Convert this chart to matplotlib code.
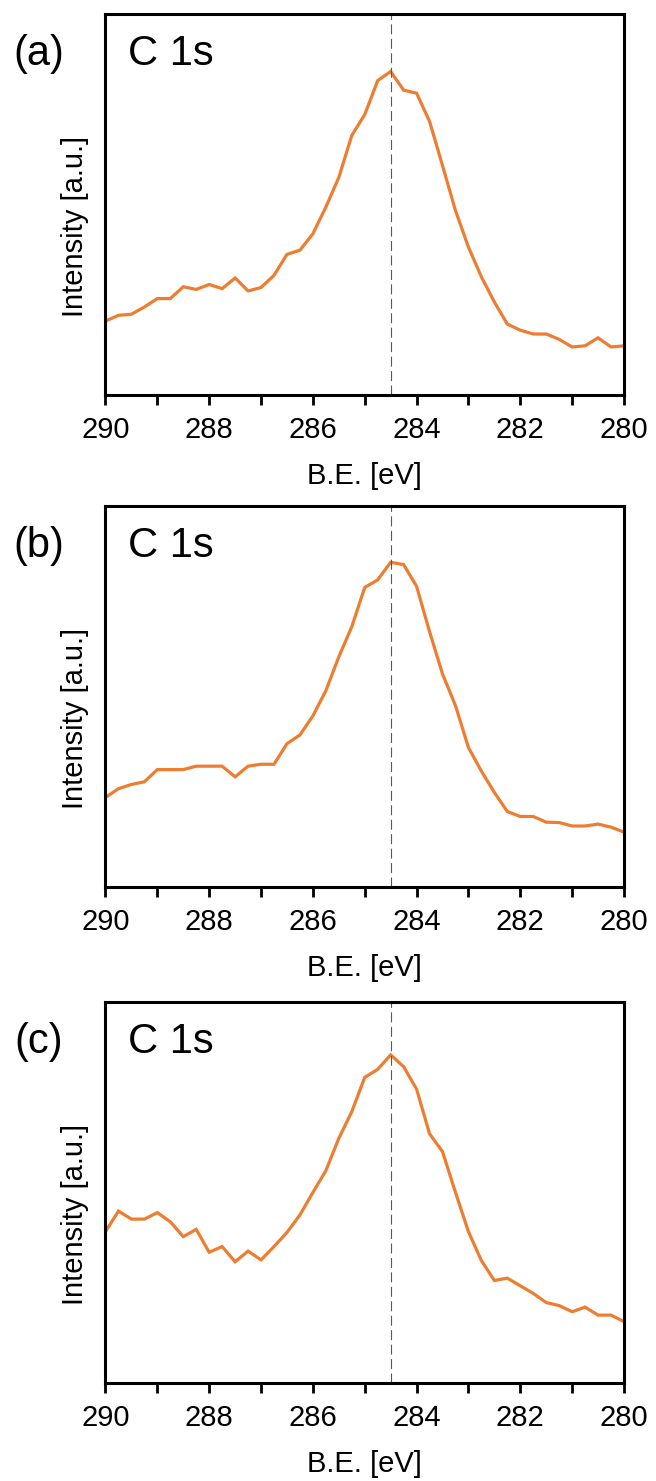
import numpy as np
import matplotlib
matplotlib.use("Agg")
import matplotlib.pyplot as plt
from matplotlib.ticker import MultipleLocator

plt.rcParams['font.family'] = ['Liberation Sans', 'DejaVu Sans']

# binding energy grid, 0.25 eV steps from 290 down to 280
be = np.arange(290.0, 279.99, -0.25)

# normalised C 1s intensities (a.u.)
c1s_a = [0.194, 0.209, 0.212, 0.231, 0.253, 0.253, 0.284, 0.277, 0.290, 0.279,
         0.307, 0.273, 0.282, 0.314, 0.369, 0.380, 0.423, 0.493, 0.571, 0.681,
         0.736, 0.825, 0.849, 0.800, 0.792, 0.718, 0.602, 0.484, 0.388, 0.310,
         0.244, 0.186, 0.170, 0.160, 0.160, 0.146, 0.126, 0.129, 0.150, 0.126,
         0.129]
c1s_b = [0.235, 0.258, 0.269, 0.276, 0.308, 0.308, 0.308, 0.317, 0.317, 0.317,
         0.289, 0.317, 0.322, 0.322, 0.376, 0.399, 0.449, 0.515, 0.604, 0.683,
         0.786, 0.806, 0.852, 0.846, 0.789, 0.670, 0.559, 0.476, 0.366, 0.304,
         0.248, 0.198, 0.185, 0.185, 0.170, 0.169, 0.160, 0.160, 0.165, 0.157,
         0.144]
c1s_c = [0.397, 0.451, 0.430, 0.430, 0.447, 0.423, 0.384, 0.403, 0.343, 0.358,
         0.318, 0.346, 0.323, 0.358, 0.395, 0.441, 0.500, 0.557, 0.642, 0.712,
         0.802, 0.823, 0.861, 0.830, 0.771, 0.654, 0.607, 0.500, 0.397, 0.321,
         0.269, 0.275, 0.255, 0.235, 0.211, 0.203, 0.187, 0.199, 0.178, 0.178,
         0.161]

panel_tags = ['(a)', '(b)', '(c)']
spectra = [c1s_a, c1s_b, c1s_c]
ref_be = 284.5          # C-C reference position
be_range = (290, 280)

fig = plt.figure(figsize=(6.56, 14.81), dpi=100)

bottoms = [0.7333, 0.4011, 0.0662]
for tag, y, b in zip(panel_tags, spectra, bottoms):
    ax = fig.add_axes([0.1608, b, 0.7904, 0.2573])
    ax.plot(be, y, color='#ED7D31', lw=2.3, solid_joinstyle='miter')
    ax.axvline(ref_be, color='#595959', lw=0.8, linestyle=(0, (9, 4)))

    ax.set_xlim(*be_range)
    ax.set_ylim(0, 1)
    ax.xaxis.set_major_locator(MultipleLocator(2))
    ax.xaxis.set_minor_locator(MultipleLocator(1))
    ax.tick_params(axis='x', which='both', direction='out', length=7,
                   width=2, pad=8, labelsize=21)
    ax.set_yticks([])
    for sp in ax.spines.values():
        sp.set_linewidth(2.2)

    ax.set_xlabel('B.E. [eV]', fontsize=21)
    ax.xaxis.set_label_coords(0.5, -0.175)
    ax.text(-0.059, 0.442, 'Intensity [a.u.]', transform=ax.transAxes,
            rotation=90, ha='center', va='center', fontsize=21)

    ax.text(0.043, 0.867, 'C 1s', transform=ax.transAxes,
            ha='left', va='baseline', fontsize=30)
    ax.text(-0.128, 0.867, tag, transform=ax.transAxes,
            ha='center', va='baseline', fontsize=30)

fig.savefig('out.png', dpi=100)
